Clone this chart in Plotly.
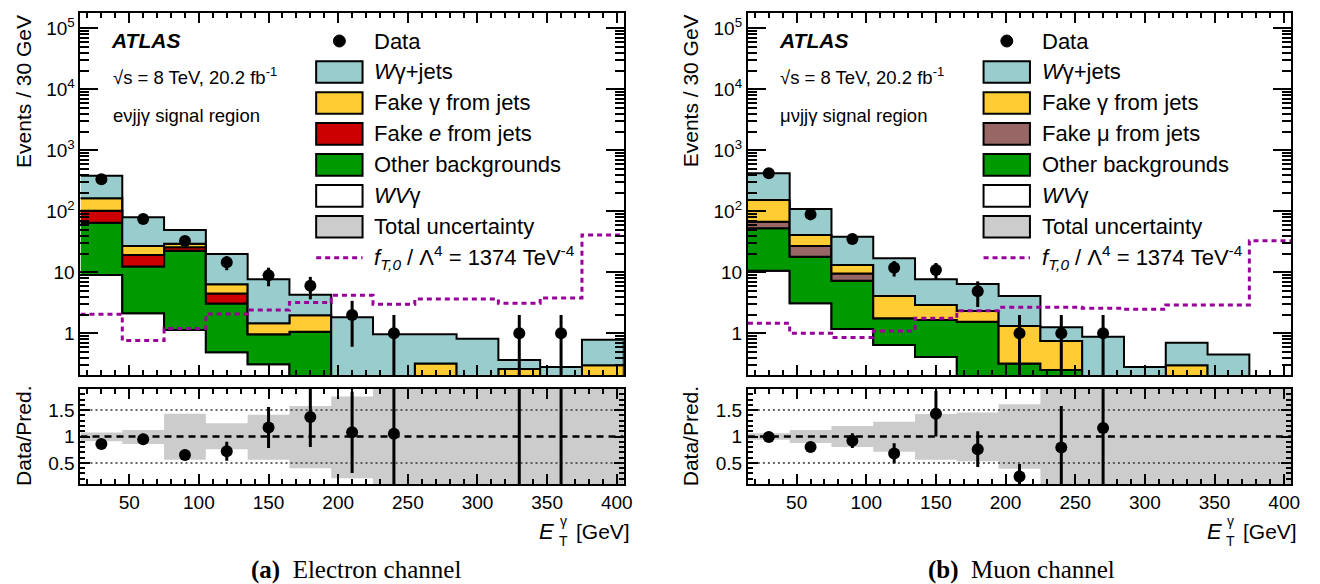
import plotly.graph_objects as go

# ---------------- data ----------------
bin_edges = [15, 45, 75, 105, 135, 165, 195, 225, 255, 285, 315, 345, 375, 405]
bin_centers = [30, 60, 90, 120, 150, 180, 210, 240, 270, 300, 330, 360, 390]

# Electron channel (stack components, bottom to top)
el_wvgamma = [9.0, 2.13, 1.13, 0.49, 0.31, 0.18, 0.08, 0.06, 0.04, 0.03, 0.03, 0.02, 0.02]
el_other = [56, 10.3, 21.5, 2.6, 0.65, 0.88, 0.07, 0.04, 0.03, 0.02, 0.02, 0.02, 0.02]
el_fake_lep = [37, 6.8, 3.1, 1.4, 0, 0, 0, 0, 0, 0, 0, 0, 0]
el_fake_gamma = [61, 7.8, 3.7, 1.9, 0.5, 0.91, 0.02, 0.05, 0.25, 0.08, 0.21, 0.1, 0.26]
el_wgamma = [221, 53, 20, 13.6, 6.24, 2.33, 1.66, 0.81, 0.64, 0.68, 0.105, 0.14, 0.48]
el_data = [335, 75, 32.6, 14.6, 8.9, 6.0, 2, 1, 0, 0, 1, 1, 0]
el_data_err = [18, 8.7, 5.7, 3.8, 3.0, 2.4, 1.4, 1, 0, 0, 1, 1, 0]
el_ft0 = [2.05, 0.76, 1.2, 2.07, 2.4, 3.2, 4.2, 3.0, 3.65, 3.65, 3.1, 3.8, 41]
el_ratio = [0.86, 0.95, 0.65, 0.72, 1.17, 1.37, 1.08, 1.05, None, None, 2.7, 3.6, None]
el_ratio_err = [0.05, 0.1, 0.1, 0.18, 0.39, 0.57, 0.77, 1.05, 0, 0, 2.7, 3.6, 0]
el_unc_lo = [0.91, 0.86, 0.56, 0.76, 0.56, 0.40, 0.21, 0, 0, 0, 0, 0, 0]
el_unc_hi = [1.075, 1.125, 1.43, 1.25, 1.41, 1.58, 1.76, 2.5, 2.5, 2.5, 2.5, 2.5, 2.5]

# Muon channel
mu_wvgamma = [10.6, 3.1, 1.18, 0.64, 0.41, 0.18, 0.1, 0.07, 0.05, 0.04, 0.03, 0.02, 0]
mu_other = [42, 14.9, 6.1, 1.12, 1.24, 1.37, 0.22, 0.18, 0.06, 0.04, 0.03, 0.03, 0]
mu_fake_lep = [14.9, 9.0, 2.3, 0, 0, 0, 0, 0, 0, 0, 0, 0, 0]
mu_fake_gamma = [85.5, 13.9, 3.6, 2.34, 1.25, 0.77, 1.0, 0.5, 0.03, 0.02, 0.24, 0.05, 0]
mu_wgamma = [267, 68, 25.1, 12.9, 4.8, 4.08, 2.78, 0.5, 0.74, 0.18, 0.40, 0.35, 0]
mu_data = [420, 89, 35.2, 11.9, 10.9, 4.9, 1, 1, 1, 0, 0, 0, 0]
mu_data_err = [20, 9.4, 5.9, 3.4, 3.3, 2.2, 1, 1, 1, 0, 0, 0, 0]
mu_ft0 = [1.46, 1.0, 0.85, 1.09, 1.76, 2.35, 2.67, 2.67, 2.57, 2.47, 2.91, 2.91, 33]
mu_ratio = [0.99, 0.8, 0.92, 0.68, 1.43, 0.76, 0.24, 0.79, 1.16, None, None, None, None]
mu_ratio_err = [0.05, 0.09, 0.14, 0.19, 0.43, 0.34, 0.24, 0.79, 1.16, 0, 0, 0, 0]
mu_unc_lo = [0.94, 0.875, 0.8, 0.71, 0.56, 0.53, 0.39, 0, 0, 0, 0, 0, 0]
mu_unc_hi = [1.06, 1.125, 1.2, 1.28, 1.425, 1.456, 1.61, 2.5, 2.5, 2.5, 2.5, 2.5, 2.5]

y_tick_vals = [1, 10, 100, 1000, 10000, 100000]
y_tick_text = ["1", "10", "10<sup>2</sup>", "10<sup>3</sup>", "10<sup>4</sup>", "10<sup>5</sup>"]

# ---------------- style ----------------
C_WG = "#99CCCC"
C_FG = "#FFCC33"
C_FE = "#CC0000"
C_FM = "#996666"
C_OT = "#009900"
C_WV = "#FFFFFF"
C_UNC = "#CCCCCC"
C_FT0 = "#990099"
FONT = "Liberation Sans, Arial, sans-serif"
SERIF = "Liberation Serif, Times New Roman, serif"
FLOOR = 1e-3

# the page body adds an 8 px margin, so the figure is drawn from (8, 8)
OFF = 8
W, H = 1320 - OFF, 584 - OFF
def px(x):
    return (x - OFF) / W
def py(y):
    return 1 - (y - OFF) / H

MAIN_Y = [py(375), py(12.7)]
RAT_Y = [py(484), py(389)]
LEFT_X = [px(81), px(628)]
RIGHT_X = [px(753), px(1300)]


def step_path(vals):
    xs, ys = [], []
    for i, v in enumerate(vals):
        xs += [bin_edges[i], bin_edges[i + 1]]
        ys += [v, v]
    return xs, ys


def band_trace(lo, hi, color, xa, ya, outline=True):
    xu, yu = step_path(hi)
    xl, yl = step_path(lo)
    return go.Scatter(
        x=xu + xl[::-1], y=yu + yl[::-1], mode="lines", fill="toself",
        fillcolor=color,
        line=dict(color="black" if outline else color, width=2 if outline else 0),
        xaxis=xa, yaxis=ya, showlegend=False, hoverinfo="skip")


fig = go.Figure()


def add_panel(comps, colors, data, derr, ft0, ratio, rerr, ulo, uhi, xa, ya, xr, yr):
    cum_prev = [FLOOR] * len(bin_centers)
    running = [0.0] * len(bin_centers)
    for comp, col in zip(comps, colors):
        running = [r + c for r, c in zip(running, comp)]
        cur = [max(r, FLOOR) for r in running]
        fig.add_trace(band_trace(cum_prev, cur, col, xa, ya))
        cum_prev = cur
    # fT0 dotted line
    fx, fy = step_path(ft0)
    fig.add_trace(go.Scatter(x=fx, y=fy, mode="lines",
                             line=dict(color=C_FT0, width=3, dash="5px,4px"),
                             xaxis=xa, yaxis=ya, showlegend=False, hoverinfo="skip"))
    # data
    dx = [c for c, d in zip(bin_centers, data) if d > 0]
    dy = [d for d in data if d > 0]
    de = [e for d, e in zip(data, derr) if d > 0]
    fig.add_trace(go.Scatter(x=dx, y=dy, mode="markers",
                             marker=dict(color="black", size=12),
                             error_y=dict(type="data", array=de, visible=True,
                                          color="black", thickness=3, width=0),
                             xaxis=xa, yaxis=ya, showlegend=False))
    # ratio
    fig.add_trace(band_trace(ulo, uhi, C_UNC, xr, yr, outline=False))
    for lvl, dash, wid in [(0.5, "2px,3px", 1.5), (1.5, "2px,3px", 1.5), (1.0, "7px,5px", 2.5)]:
        fig.add_trace(go.Scatter(x=[bin_edges[0], bin_edges[-1]], y=[lvl, lvl], mode="lines",
                                 line=dict(color="black" if lvl == 1.0 else "#333333", width=wid, dash=dash),
                                 xaxis=xr, yaxis=yr, showlegend=False, hoverinfo="skip"))
    rx = [c for c, r in zip(bin_centers, ratio) if r is not None]
    ry = [r for r in ratio if r is not None]
    re_ = [e for r, e in zip(ratio, rerr) if r is not None]
    fig.add_trace(go.Scatter(x=rx, y=ry, mode="markers",
                             marker=dict(color="black", size=12),
                             error_y=dict(type="data", array=re_, visible=True,
                                          color="black", thickness=3, width=0),
                             xaxis=xr, yaxis=yr, showlegend=False))


add_panel([el_wvgamma, el_other, el_fake_lep, el_fake_gamma, el_wgamma],
          [C_WV, C_OT, C_FE, C_FG, C_WG],
          el_data, el_data_err, el_ft0, el_ratio, el_ratio_err, el_unc_lo, el_unc_hi,
          "x", "y", "x2", "y2")
add_panel([mu_wvgamma, mu_other, mu_fake_lep, mu_fake_gamma, mu_wgamma],
          [C_WV, C_OT, C_FM, C_FG, C_WG],
          mu_data, mu_data_err, mu_ft0, mu_ratio, mu_ratio_err, mu_unc_lo, mu_unc_hi,
          "x3", "y3", "x4", "y4")

minor_log = [m * 10 ** e for e in range(-1, 6) for m in range(2, 10)]

def xaxis(domain, anchor, labels):
    return dict(domain=domain, anchor=anchor, range=[15, 405], showgrid=False, zeroline=False,
                showline=True, linecolor="black", linewidth=2, mirror="allticks",
                ticks="inside", ticklen=10, tickwidth=1.5, tickcolor="black",
                tickmode="linear", tick0=0, dtick=50, showticklabels=labels,
                tickfont=dict(family=FONT, size=19, color="black"),
                minor=dict(ticks="inside", ticklen=5, tickwidth=1.5, tickcolor="black",
                           tick0=0, dtick=10))

def ylog(domain, anchor):
    return dict(domain=domain, anchor=anchor, type="log", range=[-0.684, 5.256],
                showgrid=False, zeroline=False, showline=True, linecolor="black",
                linewidth=2, mirror="allticks", ticks="inside", ticklen=18,
                tickwidth=1.5, tickcolor="black", tickmode="array",
                tickvals=y_tick_vals, ticktext=y_tick_text,
                tickfont=dict(family=FONT, size=19, color="black"),
                minor=dict(ticks="inside", ticklen=9, tickwidth=1.5, tickcolor="black",
                           tickmode="array", tickvals=minor_log))

def yrat(domain, anchor):
    return dict(domain=domain, anchor=anchor, range=[0.1, 1.9], showgrid=False,
                zeroline=False, showline=True, linecolor="black", linewidth=2,
                mirror="allticks", ticks="inside", ticklen=10, tickwidth=1.5,
                tickcolor="black", tickmode="array", tickvals=[0.5, 1, 1.5],
                ticktext=["0.5", "1", "1.5"],
                tickfont=dict(family=FONT, size=19, color="black"),
                minor=dict(ticks="inside", ticklen=5, tickwidth=1.5, tickcolor="black",
                           tick0=0, dtick=0.1))

fig.update_layout(
    width=W, height=H, margin=dict(l=0, r=0, t=0, b=0),
    paper_bgcolor="white", plot_bgcolor="white", showlegend=False,
    font=dict(family=FONT, color="black"),
    xaxis=xaxis(LEFT_X, "y", False), yaxis=ylog(MAIN_Y, "x"),
    xaxis2=xaxis(LEFT_X, "y2", True), yaxis2=yrat(RAT_Y, "x2"),
    xaxis3=xaxis(RIGHT_X, "y3", False), yaxis3=ylog(MAIN_Y, "x3"),
    xaxis4=xaxis(RIGHT_X, "y4", True), yaxis4=yrat(RAT_Y, "x4"),
)

shapes = []
annots = []

def dom_y(y):
    return (375 - y) / 362.3

def add_texts(xr, yr, region, entries, x0px):
    annots.append(dict(xref=xr, yref=yr, x=0.053, y=dom_y(40), text="<b><i>ATLAS</i></b>",
                       showarrow=False, xanchor="left", yanchor="middle",
                       font=dict(family=FONT, size=21)))
    annots.append(dict(xref=xr, yref=yr, x=0.056, y=dom_y(76),
                       text="√s = 8 TeV, 20.2 fb<sup>-1</sup>",
                       showarrow=False, xanchor="left", yanchor="middle",
                       font=dict(family=FONT, size=18.5)))
    annots.append(dict(xref=xr, yref=yr, x=0.056, y=dom_y(115), text=region,
                       showarrow=False, xanchor="left", yanchor="middle",
                       font=dict(family=FONT, size=18.5)))
    row_y = [41 + 30.97 * i for i in range(len(entries))]
    bx0, bx1, tx = 0.4338, 0.5192, 0.5375
    hh = 10.8 / 362.3
    for (kind, col, label), yy in zip(entries, row_y):
        yc = dom_y(yy)
        if kind == "marker":
            shapes.append(dict(type="circle", xref=xr, yref=yr,
                               x0=0.4766 - 6 / 547, x1=0.4766 + 6 / 547,
                               y0=yc - 6 / 362.3, y1=yc + 6 / 362.3,
                               fillcolor="black", line=dict(color="black", width=1)))
        elif kind == "box":
            shapes.append(dict(type="rect", xref=xr, yref=yr, x0=bx0, x1=bx1,
                               y0=yc - hh, y1=yc + hh, fillcolor=col,
                               line=dict(color="black", width=2)))
        else:
            shapes.append(dict(type="line", xref=xr, yref=yr, x0=bx0, x1=bx1,
                               y0=yc, y1=yc, line=dict(color=C_FT0, width=3, dash="5px,4px")))
        annots.append(dict(xref=xr, yref=yr, x=tx, y=yc, text=label, showarrow=False,
                           xanchor="left", yanchor="middle",
                           font=dict(family=FONT, size=22)))
    # y titles
    annots.append(dict(xref="paper", yref="paper", x=px(x0px - 58), y=py(91),
                       text="Events / 30 GeV", textangle=-90, showarrow=False,
                       xanchor="center", yanchor="middle", font=dict(family=FONT, size=21)))
    annots.append(dict(xref="paper", yref="paper", x=px(x0px - 58), y=py(436),
                       text="Data/Pred.", textangle=-90, showarrow=False,
                       xanchor="center", yanchor="middle", font=dict(family=FONT, size=21)))
    # x title
    xr_px = x0px + 547
    annots.append(dict(xref="paper", yref="paper", x=px(xr_px + 8), y=py(531),
                       text="[GeV]", showarrow=False, xanchor="right", yanchor="middle",
                       font=dict(family=FONT, size=21)))
    annots.append(dict(xref="paper", yref="paper", x=px(xr_px - 68), y=py(531),
                       text="<i>E</i>", showarrow=False, xanchor="right", yanchor="middle",
                       font=dict(family=FONT, size=22)))
    annots.append(dict(xref="paper", yref="paper", x=px(xr_px - 61), y=py(521),
                       text="γ", showarrow=False, xanchor="center", yanchor="middle",
                       font=dict(family=FONT, size=14)))
    annots.append(dict(xref="paper", yref="paper", x=px(xr_px - 61), y=py(541),
                       text="T", showarrow=False, xanchor="center", yanchor="middle",
                       font=dict(family=FONT, size=14)))


ft0_label = "<i>f</i><sub><i>T,0</i></sub> / Λ<sup>4</sup> = 1374 TeV<sup>-4</sup>"
el_entries = [("marker", None, "Data"), ("box", C_WG, "<i>W</i>γ+jets"),
              ("box", C_FG, "Fake γ from jets"), ("box", C_FE, "Fake <i>e</i> from jets"),
              ("box", C_OT, "Other backgrounds"), ("box", C_WV, "<i>WV</i>γ"),
              ("box", C_UNC, "Total uncertainty"), ("line", None, ft0_label)]
mu_entries = [("marker", None, "Data"), ("box", C_WG, "<i>W</i>γ+jets"),
              ("box", C_FG, "Fake γ from jets"), ("box", C_FM, "Fake μ from jets"),
              ("box", C_OT, "Other backgrounds"), ("box", C_WV, "<i>WV</i>γ"),
              ("box", C_UNC, "Total uncertainty"), ("line", None, ft0_label)]

add_texts("x domain", "y domain", "eνjjγ signal region", el_entries, 81)
add_texts("x3 domain", "y3 domain", "μνjjγ signal region", mu_entries, 753)

annots.append(dict(xref="paper", yref="paper", x=px(358), y=py(570),
                   text="<b>(a)</b>  Electron channel", showarrow=False,
                   xanchor="center", yanchor="middle", font=dict(family=SERIF, size=25)))
annots.append(dict(xref="paper", yref="paper", x=px(1029), y=py(570),
                   text="<b>(b)</b>  Muon channel", showarrow=False,
                   xanchor="center", yanchor="middle", font=dict(family=SERIF, size=25)))

fig.update_layout(shapes=shapes, annotations=annots)
fig.write_html("out.html")
